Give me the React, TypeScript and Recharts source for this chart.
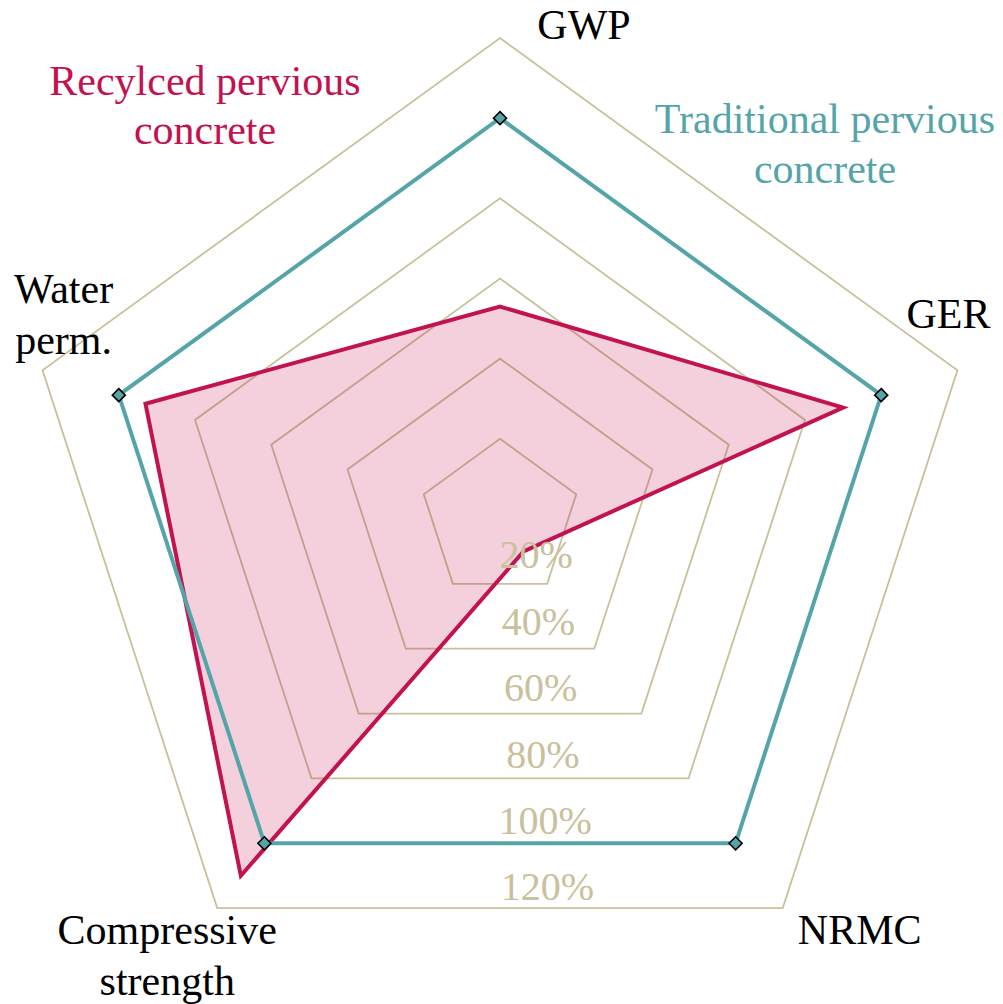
import React from "react";
import {
  RadarChart,
  Radar,
  PolarGrid,
  PolarAngleAxis,
  PolarRadiusAxis,
} from "recharts";

const categories = ["GWP", "GER", "NRMC", "Compressive strength", "Water perm."];
const recycled = [53, 90, 10, 110, 93];
const traditional = [100, 100, 100, 100, 100];
const radiusTicks = [20, 40, 60, 80, 100, 120];

const data = categories.map((axis, i) => ({
  axis,
  recycled: recycled[i],
  traditional: traditional[i],
}));

const W = 1003;
const H = 1004;
const CX = 500;
const CY = 519;
const OUTER = 481;
const FONT = '"Liberation Serif", "Times New Roman", serif';
const RED = "#c2124f";
const TEAL = "#55a5a8";
const GRID = "#c9c09c";

// line breaks + offset of each label from its outer vertex (x = centre, y = first baseline)
const labelLayout: Record<string, { lines: string[]; dx: number; dy: number }> = {
  GWP: { lines: ["GWP"], dx: 84, dy: 1 },
  GER: { lines: ["GER"], dx: -9, dy: -42 },
  NRMC: { lines: ["NRMC"], dx: 77, dy: 36 },
  "Compressive strength": { lines: ["Compressive", "strength"], dx: -50, dy: 36 },
  "Water perm.": { lines: ["Water", "perm."], dx: 21, dy: -67 },
};

function AngleTick({ x, y, payload }: any) {
  const vx0 = x - CX;
  const vy0 = y - CY;
  const len = Math.hypot(vx0, vy0) || 1;
  const vx = CX + (vx0 / len) * OUTER;
  const vy = CY + (vy0 / len) * OUTER;
  const l = labelLayout[payload.value];
  if (!l) return null;
  return (
    <text
      x={vx + l.dx}
      y={vy + l.dy}
      textAnchor="middle"
      fontFamily={FONT}
      fontSize={42}
      fill="#000"
    >
      {l.lines.map((s, i) => (
        <tspan key={i} x={vx + l.dx} dy={i === 0 ? 0 : 51}>
          {s}
        </tspan>
      ))}
    </text>
  );
}

// percent labels sit just above the bottom edge of each grid pentagon
function RadiusTick({ y, payload }: any) {
  const r = y - CY;
  return (
    <text
      x={CX + 34 + 0.028 * r}
      y={CY - 17 + 0.828 * r}
      textAnchor="middle"
      fontFamily={FONT}
      fontSize={40}
      fill={GRID}
    >
      {payload.value}%
    </text>
  );
}

function Diamond({ cx, cy }: any) {
  const s = 6.5;
  return (
    <polygon
      points={`${cx},${cy - s} ${cx + s},${cy} ${cx},${cy + s} ${cx - s},${cy}`}
      fill={TEAL}
      stroke="#000"
      strokeWidth={1.6}
    />
  );
}

export default function App() {
  return (
    <div
      style={{
        position: "absolute",
        left: 0,
        top: 0,
        width: W,
        height: H,
        background: "#fff",
      }}
    >
      <RadarChart
        width={W}
        height={H}
        data={data}
        cx={CX}
        cy={CY}
        outerRadius={OUTER}
        margin={{ top: 0, right: 0, bottom: 0, left: 0 }}
      >
        <PolarGrid gridType="polygon" radialLines={false} stroke={GRID} strokeWidth={1.8} />
        <PolarAngleAxis dataKey="axis" tick={<AngleTick />} axisLine={false} tickLine={false} />
        <PolarRadiusAxis
          domain={[0, 120]}
          ticks={radiusTicks}
          angle={-90}
          axisLine={false}
          tickLine={false}
          tick={<RadiusTick />}
        />
        <Radar
          dataKey="recycled"
          stroke={RED}
          strokeWidth={4}
          fill={RED}
          fillOpacity={0.2}
          isAnimationActive={false}
        />
        <Radar
          dataKey="traditional"
          stroke={TEAL}
          strokeWidth={4}
          fill="none"
          fillOpacity={0}
          dot={<Diamond />}
          isAnimationActive={false}
        />
      </RadarChart>
      <svg
        width={W}
        height={H}
        style={{ position: "absolute", left: 0, top: 0, pointerEvents: "none" }}
      >
        <text textAnchor="middle" fontFamily={FONT} fontSize={42} fill={RED}>
          <tspan x={205} y={95}>Recylced pervious</tspan>
          <tspan x={205} y={144}>concrete</tspan>
        </text>
        <text textAnchor="middle" fontFamily={FONT} fontSize={42} fill={TEAL}>
          <tspan x={825} y={133}>Traditional pervious</tspan>
          <tspan x={825} y={183}>concrete</tspan>
        </text>
      </svg>
    </div>
  );
}
